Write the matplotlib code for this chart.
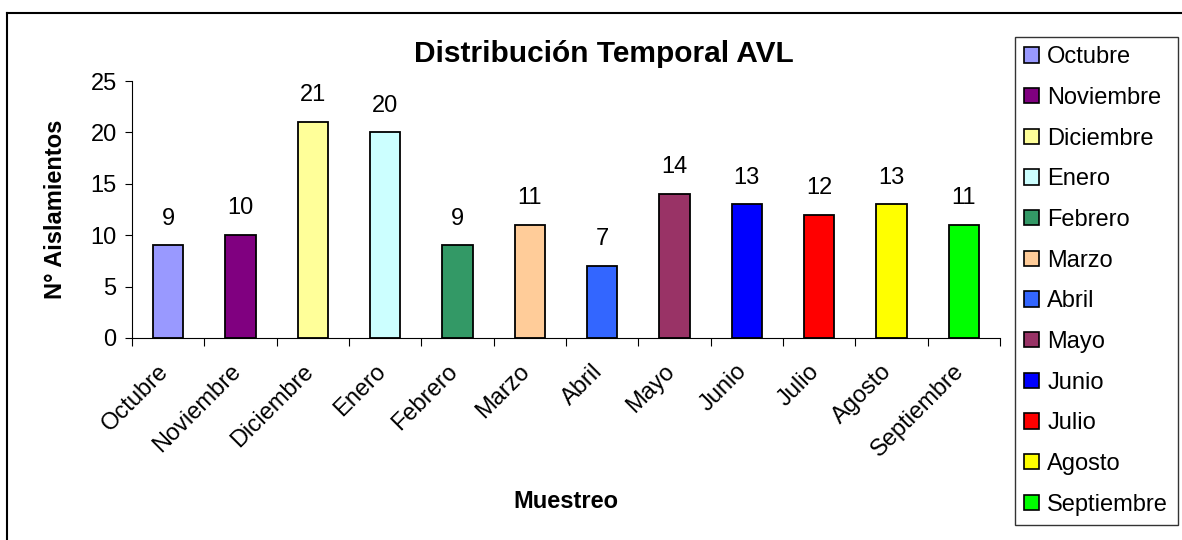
import matplotlib.pyplot as plt
from matplotlib.lines import Line2D
from matplotlib.patches import Patch

plt.rcParams['font.family'] = ['Liberation Sans', 'DejaVu Sans']

# datos
meses = ["Octubre", "Noviembre", "Diciembre", "Enero", "Febrero", "Marzo",
         "Abril", "Mayo", "Junio", "Julio", "Agosto", "Septiembre"]
aislamientos = [9, 10, 21, 20, 9, 11, 7, 14, 13, 12, 13, 11]
colores = ["#9999FF", "#800080", "#FFFF99", "#CCFFFF", "#339966", "#FFCC99",
           "#3366FF", "#993366", "#0000FF", "#FF0000", "#FFFF00", "#00FF00"]

W, H = 1182, 540
fs = 17
fig = plt.figure(figsize=(W / 100, H / 100), dpi=100)
ax = fig.add_axes([132 / W, 1 - 338 / H, (1000 - 132) / W, (338 - 81) / H])

x = list(range(len(meses)))
ax.bar(x, aislamientos, width=0.42, color=colores,
       edgecolor="black", linewidth=1.3)

for xi, v in zip(x, aislamientos):
    ax.text(xi, v + 2.6, str(v), ha="center", va="center", fontsize=fs)

ax.set_xlim(-0.5, len(meses) - 0.5)
ax.set_ylim(0, 25)
ax.set_yticks(range(0, 26, 5))
ax.tick_params(axis="y", labelsize=fs, length=5, direction="out", pad=6)
ax.set_xticks([i - 0.5 for i in range(len(meses) + 1)])
ax.set_xticklabels([])
ax.tick_params(axis="x", length=5.5, direction="out")
# etiquetas un poco a la izquierda del centro, como en Excel
ax.set_xticks([i - 0.15 for i in x], minor=True)
ax.set_xticklabels(meses, minor=True, rotation=45, ha="right",
                   rotation_mode="anchor", fontsize=fs)
ax.tick_params(axis="x", which="minor", length=0, pad=16)

ax.spines["top"].set_visible(False)
ax.spines["right"].set_visible(False)

fig.text(55 / W, 1 - 209 / H, "N° Aislamientos", ha="center", va="center",
         rotation=90, fontsize=fs, fontweight="bold")
fig.text(566 / W, 1 - 502 / H, "Muestreo", ha="center", va="center",
         fontsize=fs, fontweight="bold")
fig.text(604 / W, 1 - 54 / H, "Distribución Temporal AVL", ha="center",
         va="center", fontsize=21.5, fontweight="bold")

# marco exterior
fig.add_artist(Line2D([7 / W, 1], [1 - 13 / H, 1 - 13 / H], color="black", lw=1.5))
fig.add_artist(Line2D([7 / W, 7 / W], [0, 1 - 13 / H], color="black", lw=1.5))

# leyenda
handles = [Patch(facecolor=c, edgecolor="black", linewidth=1.2) for c in colores]
leg = fig.legend(handles, meses, loc="upper left",
                 bbox_to_anchor=(1015 / W, 1 - 37 / H), borderaxespad=0,
                 fontsize=fs, frameon=True, fancybox=False,
                 handlelength=0.62, handleheight=0.62, handletextpad=0.35,
                 labelspacing=0.79, borderpad=0.4)
leg.get_frame().set_edgecolor("black")
leg.get_frame().set_linewidth(1.0)

fig.savefig("out.png", dpi=100)
